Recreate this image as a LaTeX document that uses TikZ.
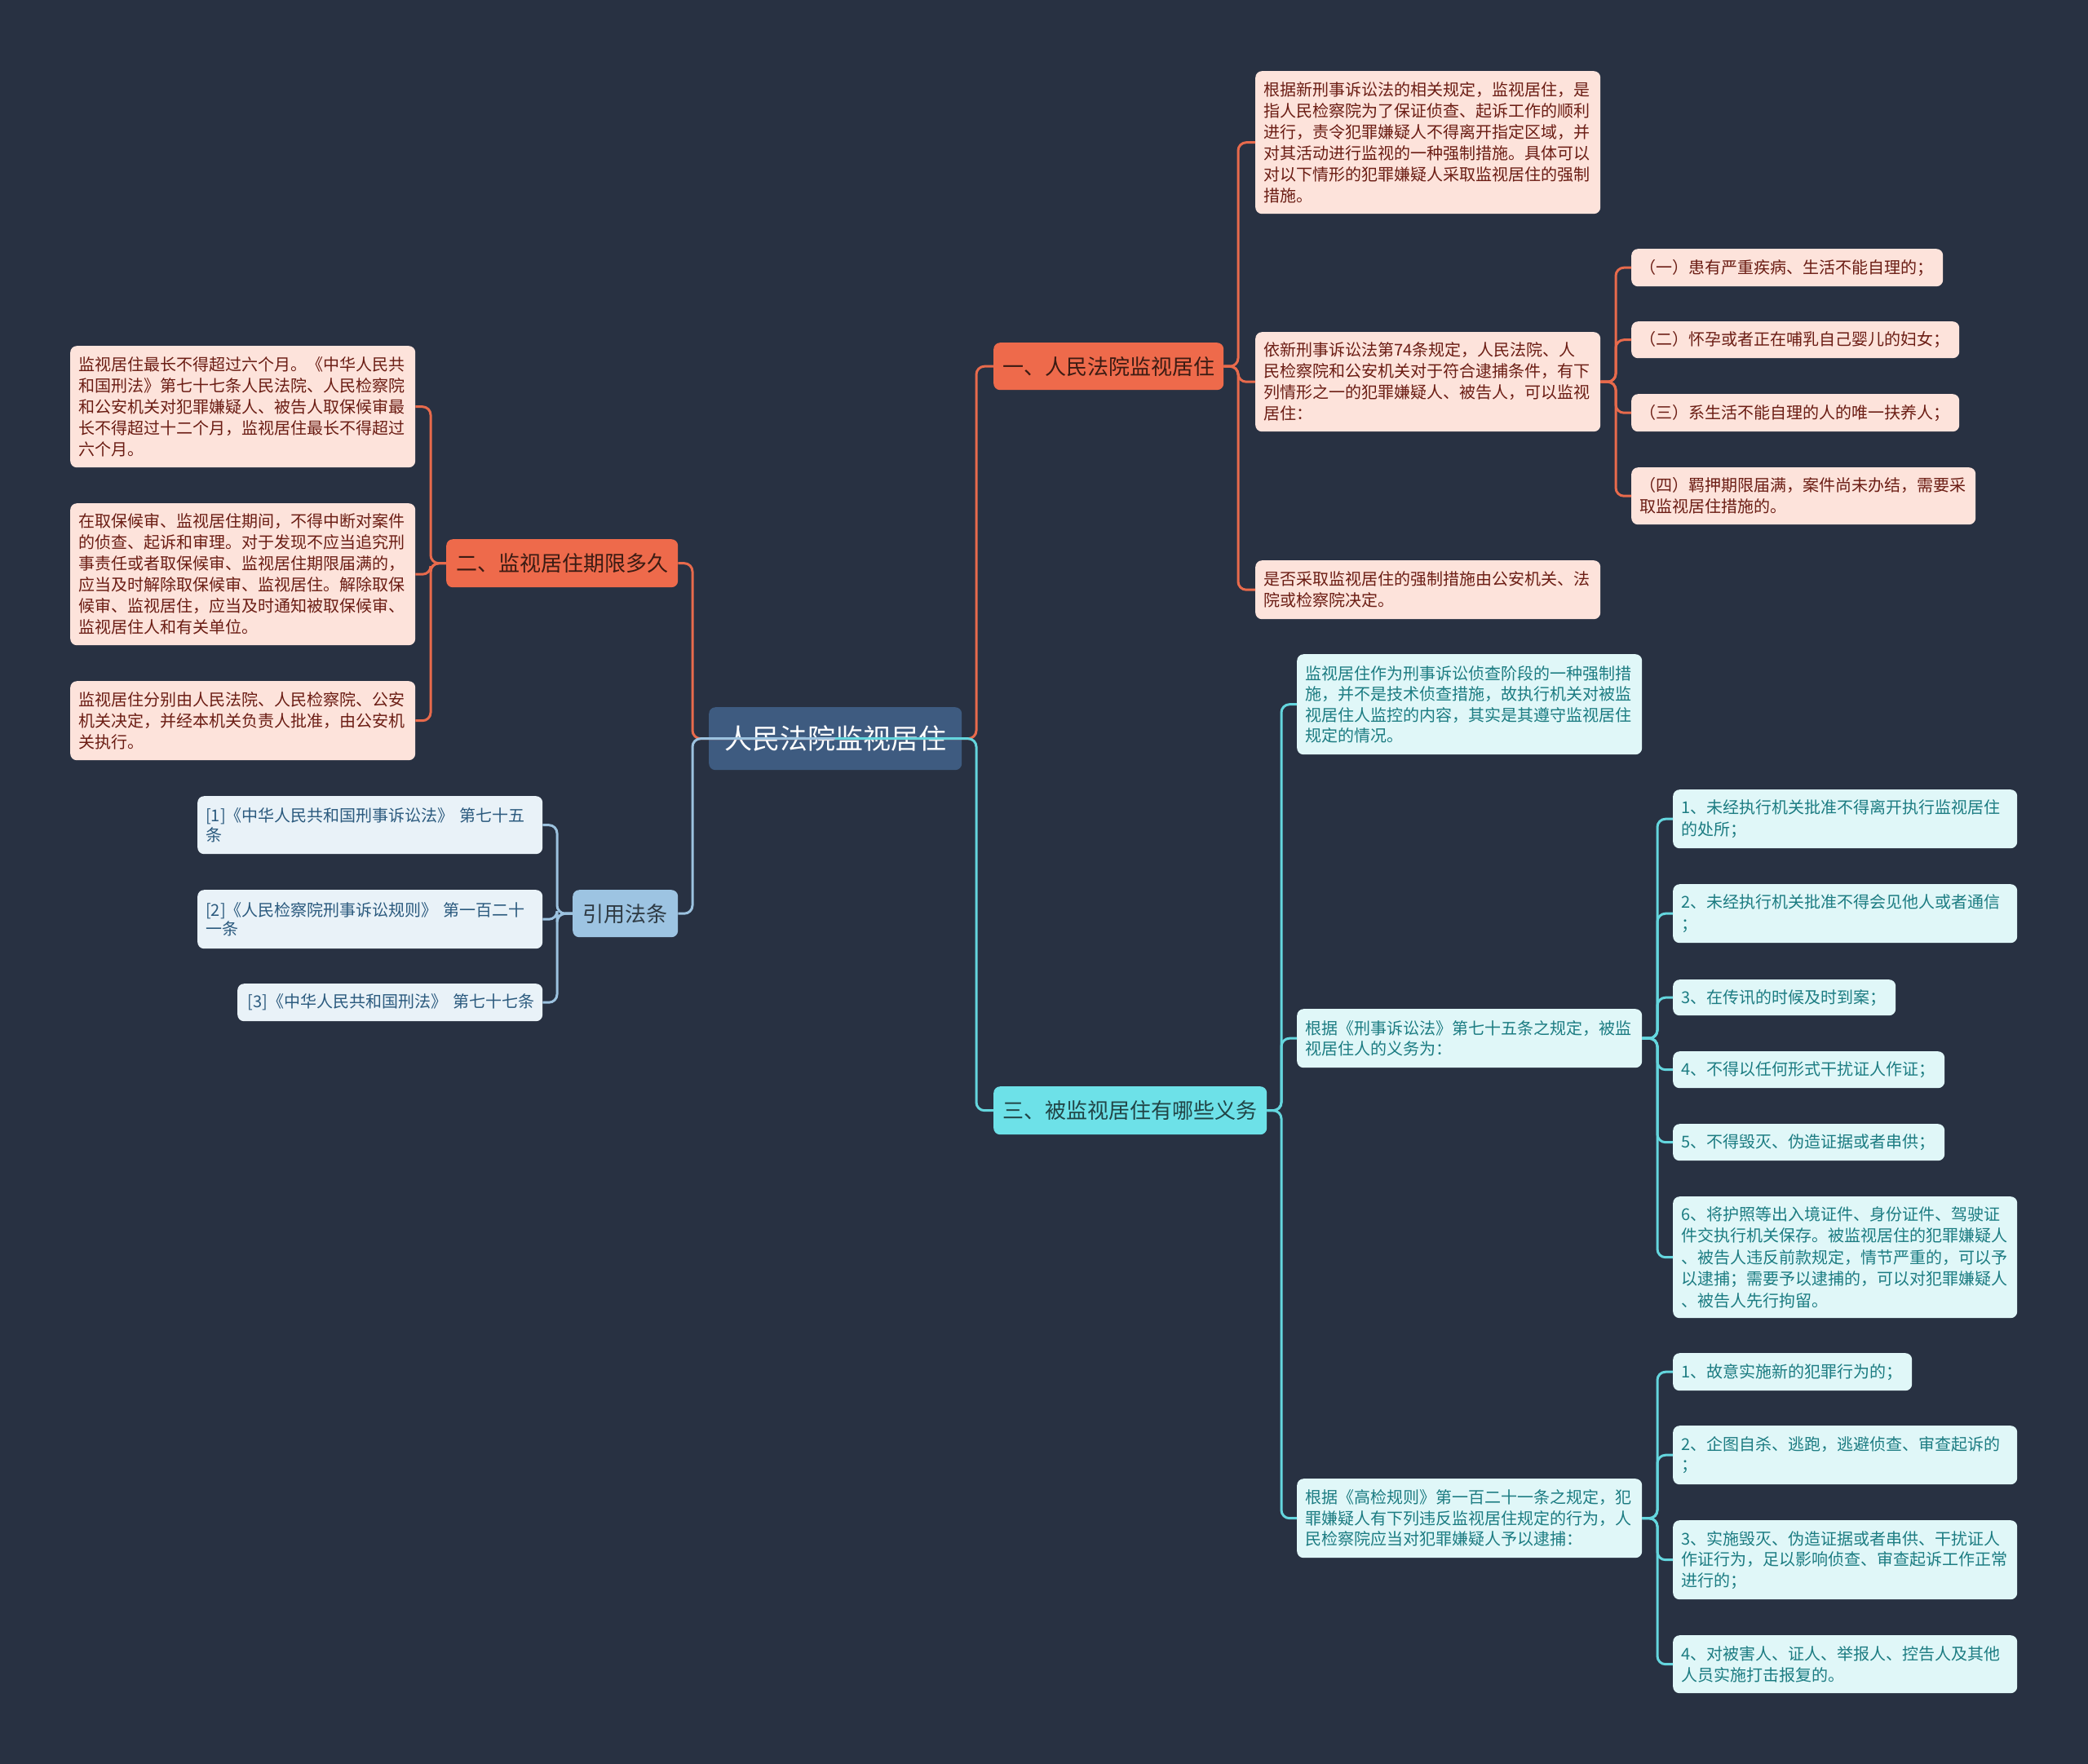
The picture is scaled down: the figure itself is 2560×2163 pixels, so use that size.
\documentclass[tikz,border=0pt]{standalone}
\usepackage{fontspec}
\newfontfamily\cjk{Noto Sans CJK SC}
\definecolor{bg}{HTML}{283142}
\definecolor{orn}{HTML}{EE6A4B}
\definecolor{ornline}{HTML}{E86A4C}
\definecolor{ornleaf}{HTML}{FDE3DB}
\definecolor{orntext}{HTML}{6B1D14}
\definecolor{cyn}{HTML}{6DE1E8}
\definecolor{cynline}{HTML}{64D6DE}
\definecolor{cynleaf}{HTML}{E0F7F8}
\definecolor{cyntext}{HTML}{1C7C82}
\definecolor{blu}{HTML}{9DC4E2}
\definecolor{bluline}{HTML}{9CC2DF}
\definecolor{bluleaf}{HTML}{E9F2F8}
\definecolor{blutext}{HTML}{2B5A7E}
\definecolor{rootfill}{HTML}{3E5B80}
\begin{document}
\begin{tikzpicture}[x=1pt,y=-1pt,
  basebox/.style={anchor=north west, rounded corners=8pt, inner xsep=10pt, inner ysep=2pt, align=left},
  oleaf/.style={basebox, fill=ornleaf, text=orntext, font=\cjk\fontsize{20}{26}\selectfont},
  cleaf/.style={basebox, fill=cynleaf, text=cyntext, font=\cjk\fontsize{20}{25.5}\selectfont},
  tleaf/.style={basebox, fill=cynleaf, text=cyntext, font=\cjk\fontsize{20}{26.5}\selectfont},
  rleaf/.style={basebox, fill=bluleaf, text=blutext, font=\cjk\fontsize{20}{23.5}\selectfont},
  branch/.style={anchor=north west, rounded corners=8pt, inner sep=0pt, align=center, font=\cjk\fontsize{26}{30}\selectfont},
  ob/.style={branch, fill=orn, text=black!75!orn},
  cb/.style={branch, fill=cyn, text=black!70!cyn},
  bb/.style={branch, fill=blu, text=black!70!blu},
  oc/.style={draw=ornline, line width=3pt, rounded corners=10pt},
  cc/.style={draw=cynline, line width=3pt, rounded corners=10pt},
  bc/.style={draw=bluline, line width=3pt, rounded corners=10pt}
]
\fill[bg] (0,0) rectangle (2560,2163);
\useasboundingbox (0,0) rectangle (2560,2163);

% trunk coordinates
\coordinate (tR) at (1197,0);
\coordinate (tL) at (849,0);
\coordinate (t1) at (1518,0);
\coordinate (t1b) at (1981,0);
\coordinate (t2) at (528,0);
\coordinate (tref) at (683,0);
\coordinate (t3) at (1571,0);
\coordinate (t3x) at (2032,0);

% root
\node[anchor=north west, rounded corners=8pt, fill=rootfill, text=white, minimum width=310pt, minimum height=77pt, inner sep=0pt, font=\cjk\fontsize{34}{40}\selectfont] (root) at (869,867) {人民法院监视居住};

% branches
\node[ob, minimum width=282pt, minimum height=58pt] (b1) at (1218,420) {一、人民法院监视居住};
\node[ob, minimum width=284pt, minimum height=59pt] (b2) at (547,661) {二、监视居住期限多久};
\node[cb, minimum width=335pt, minimum height=59pt] (b3) at (1218,1332) {三、被监视居住有哪些义务};
\node[bb, minimum width=129pt, minimum height=58pt] (bref) at (702,1091) {引用法条};

% branch 1 children
\node[oleaf, text width=403pt, minimum height=175pt] (c1a) at (1539,87) {根据新刑事诉讼法的相关规定，监视居住，是\\指人民检察院为了保证侦查、起诉工作的顺利\\进行，责令犯罪嫌疑人不得离开指定区域，并\\对其活动进行监视的一种强制措施。具体可以\\对以下情形的犯罪嫌疑人采取监视居住的强制\\措施。};
\node[oleaf, text width=403pt, minimum height=122pt] (c1b) at (1539,407) {依新刑事诉讼法第74条规定，人民法院、人\\民检察院和公安机关对于符合逮捕条件，有下\\列情形之一的犯罪嫌疑人、被告人，可以监视\\居住：};
\node[oleaf, text width=403pt, minimum height=72pt] (c1c) at (1539,687) {是否采取监视居住的强制措施由公安机关、法\\院或检察院决定。};

\node[oleaf, text width=362pt, minimum height=46pt] (i1) at (2000,305) {（一）患有严重疾病、生活不能自理的；};
\node[oleaf, text width=382pt, minimum height=45pt] (i2) at (2000,394) {（二）怀孕或者正在哺乳自己婴儿的妇女；};
\node[oleaf, text width=382pt, minimum height=46pt] (i3) at (2000,483) {（三）系生活不能自理的人的唯一扶养人；};
\node[oleaf, text width=402pt, minimum height=70pt] (i4) at (2000,573) {（四）羁押期限届满，案件尚未办结，需要采\\取监视居住措施的。};

% branch 2 children
\node[oleaf, text width=403pt, minimum height=149pt] (c2a) at (86,424) {监视居住最长不得超过六个月。《中华人民共\\和国刑法》第七十七条人民法院、人民检察院\\和公安机关对犯罪嫌疑人、被告人取保候审最\\长不得超过十二个月，监视居住最长不得超过\\六个月。};
\node[oleaf, text width=403pt, minimum height=174pt] (c2b) at (86,617) {在取保候审、监视居住期间，不得中断对案件\\的侦查、起诉和审理。对于发现不应当追究刑\\事责任或者取保候审、监视居住期限届满的，\\应当及时解除取保候审、监视居住。解除取保\\候审、监视居住，应当及时通知被取保候审、\\监视居住人和有关单位。};
\node[oleaf, text width=403pt, minimum height=97pt] (c2c) at (86,835) {监视居住分别由人民法院、人民检察院、公安\\机关决定，并经本机关负责人批准，由公安机\\关执行。};

% references
\node[rleaf, text width=403pt, minimum height=71pt] (r1) at (242,976) {[1]《中华人民共和国刑事诉讼法》 第七十五\\条};
\node[rleaf, text width=403pt, minimum height=72pt] (r2) at (242,1091) {[2]《人民检察院刑事诉讼规则》 第一百二十\\一条};
\node[rleaf, text width=354pt, minimum height=46pt, align=right] (r3) at (291,1206) {[3]《中华人民共和国刑法》 第七十七条};

% branch 3 children
\node[cleaf, text width=403pt, minimum height=123pt] (c3a) at (1590,802) {监视居住作为刑事诉讼侦查阶段的一种强制措\\施，并不是技术侦查措施，故执行机关对被监\\视居住人监控的内容，其实是其遵守监视居住\\规定的情况。};
\node[cleaf, text width=403pt, minimum height=72pt] (c3b) at (1590,1237) {根据《刑事诉讼法》第七十五条之规定，被监\\视居住人的义务为：};
\node[cleaf, text width=403pt, minimum height=97pt] (c3c) at (1590,1813) {根据《高检规则》第一百二十一条之规定，犯\\罪嫌疑人有下列违反监视居住规定的行为，人\\民检察院应当对犯罪嫌疑人予以逮捕：};

\node[tleaf, text width=402pt, minimum height=72pt] (o1) at (2051,968) {1、未经执行机关批准不得离开执行监视居住\\的处所；};
\node[tleaf, text width=402pt, minimum height=72pt] (o2) at (2051,1084) {2、未经执行机关批准不得会见他人或者通信\\；};
\node[tleaf, text width=253pt, minimum height=44pt] (o3) at (2051,1201) {3、在传讯的时候及时到案；};
\node[tleaf, text width=313pt, minimum height=45pt] (o4) at (2051,1289) {4、不得以任何形式干扰证人作证；};
\node[tleaf, text width=313pt, minimum height=45pt] (o5) at (2051,1378) {5、不得毁灭、伪造证据或者串供；};
\node[tleaf, text width=402pt, minimum height=149pt] (o6) at (2051,1467) {6、将护照等出入境证件、身份证件、驾驶证\\件交执行机关保存。被监视居住的犯罪嫌疑人\\、被告人违反前款规定，情节严重的，可以予\\以逮捕；需要予以逮捕的，可以对犯罪嫌疑人\\、被告人先行拘留。};

\node[cleaf, text width=273pt, minimum height=46pt] (p1) at (2051,1659) {1、故意实施新的犯罪行为的；};
\node[cleaf, text width=402pt, minimum height=72pt] (p2) at (2051,1748) {2、企图自杀、逃跑，逃避侦查、审查起诉的\\；};
\node[cleaf, text width=402pt, minimum height=97pt] (p3) at (2051,1864) {3、实施毁灭、伪造证据或者串供、干扰证人\\作证行为，足以影响侦查、审查起诉工作正常\\进行的；};
\node[cleaf, text width=402pt, minimum height=71pt] (p4) at (2051,2005) {4、对被害人、证人、举报人、控告人及其他\\人员实施打击报复的。};

% connectors
\foreach \c in {c1a,c1b,c1c} \draw[oc] (b1.east) -- (b1.east -| t1) |- (\c.west);
\foreach \c in {i1,i2,i3,i4} \draw[oc] (c1b.east) -- (c1b.east -| t1b) |- (\c.west);
\foreach \c in {c2a,c2b,c2c} \draw[oc] (b2.west) -- (b2.west -| t2) |- (\c.east);
\foreach \c in {r1,r2,r3} \draw[bc] (bref.west) -- (bref.west -| tref) |- (\c.east);
\foreach \c in {c3a,c3b,c3c} \draw[cc] (b3.east) -- (b3.east -| t3) |- (\c.west);
\foreach \c in {o1,o2,o3,o4,o5,o6} \draw[cc] (c3b.east) -- (c3b.east -| t3x) |- (\c.west);
\foreach \c in {p1,p2,p3,p4} \draw[cc] (c3c.east) -- (c3c.east -| t3x) |- (\c.west);

\draw[oc] (root.center) -- (root.center -| tR) |- (b1.west);
\draw[oc] (root.center) -- (root.center -| tL) |- (b2.east);
\draw[bc] (root.center) -- (root.center -| tL) |- (bref.east);
\draw[cc] (root.center) -- (root.center -| tR) |- (b3.west);
\end{tikzpicture}
\end{document}
